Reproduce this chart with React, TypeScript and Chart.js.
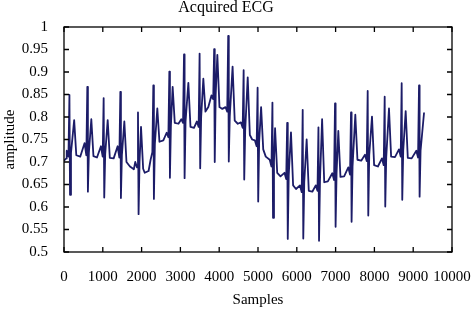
import React, { useEffect, useRef } from "react";
import { Chart, registerables } from "chart.js";

Chart.register(...registerables);

// Axis ticks
const xTickValues = [0, 1000, 2000, 3000, 4000, 5000, 6000, 7000, 8000, 9000, 10000];
const yTickValues = [0.5, 0.55, 0.6, 0.65, 0.7, 0.75, 0.8, 0.85, 0.9, 0.95, 1];

// Per-beat features
const rSample = [140, 601, 1022, 1452, 1907, 2302, 2715, 3093, 3495, 3870, 4232, 4630, 4990, 5372, 5752, 6152, 6558, 6985, 7397, 7827, 8265, 8703, 9150];
const rAmp = [0.849, 0.867, 0.842, 0.856, 0.81, 0.87, 0.901, 0.939, 0.941, 0.951, 0.98, 0.904, 0.865, 0.832, 0.787, 0.816, 0.777, 0.83, 0.81, 0.858, 0.845, 0.875, 0.87];
const sSample = [155, 616, 1037, 1467, 1922, 2317, 2730, 3108, 3510, 3885, 4247, 4645, 5005, 5387, 5767, 6167, 6573, 7000, 7412, 7842, 8280, 8718, 9165];
const sAmp = [0.627, 0.634, 0.621, 0.62, 0.584, 0.618, 0.665, 0.664, 0.686, 0.7, 0.701, 0.661, 0.612, 0.576, 0.529, 0.53, 0.525, 0.556, 0.567, 0.581, 0.601, 0.616, 0.623];
const tSample = [262, 704, 1126, 1555, 1985, 2405, 2800, 3205, 3591, 3952, 4345, 4735, 5080, 5440, 5850, 6254, 6652, 7070, 7508, 7938, 8376, 8806, 9280];
const tAmp = [0.793, 0.795, 0.793, 0.79, 0.778, 0.819, 0.867, 0.876, 0.885, 0.938, 0.912, 0.888, 0.822, 0.775, 0.766, 0.75, 0.795, 0.769, 0.805, 0.801, 0.819, 0.813, 0.81];
const pAmp = [0.725, 0.742, 0.735, 0.735, 0.7, 0.705, 0.765, 0.795, 0.79, 0.848, 0.822, 0.788, 0.748, 0.705, 0.676, 0.648, 0.648, 0.675, 0.688, 0.716, 0.708, 0.728, 0.725];
const preAmp = [0.712, 0.715, 0.712, 0.71, 0.688, 0.722, 0.755, 0.787, 0.778, 0.84, 0.812, 0.776, 0.735, 0.69, 0.662, 0.633, 0.636, 0.66, 0.672, 0.702, 0.693, 0.712, 0.71];
const stAmp = [0.72, 0.72, 0.718, 0.715, 0.7, 0.74, 0.78, 0.79, 0.8, 0.85, 0.8, 0.77, 0.745, 0.7, 0.67, 0.655, 0.66, 0.675, 0.69, 0.715, 0.71, 0.725, 0.725];
const postAmp = [0.715, 0.713, 0.709, 0.7, 0.685, 0.745, 0.787, 0.778, 0.812, 0.822, 0.792, 0.76, 0.728, 0.676, 0.648, 0.636, 0.655, 0.667, 0.705, 0.693, 0.712, 0.709];

// Baseline points between beats
const baseSample = [0, 60, 420, 850, 1280, 1700, 1800, 2080, 2180, 2560, 2950, 3350, 3720, 4080, 4480, 4850, 5200, 5580, 5980, 6400, 6800, 7220, 7660, 8090, 8530, 8960];
const baseAmp = [0.703, 0.708, 0.712, 0.71, 0.708, 0.69, 0.684, 0.676, 0.68, 0.748, 0.785, 0.776, 0.822, 0.818, 0.785, 0.75, 0.712, 0.668, 0.64, 0.634, 0.657, 0.668, 0.703, 0.69, 0.711, 0.708];

// Feature timing relative to R (samples)
const pLead = 70;
const preLead = 25;
const stLag = 25;
const postLag = 55;

function buildPoints() {
  const pts: { x: number; y: number }[] = [];
  baseSample.forEach((s, i) => pts.push({ x: s, y: baseAmp[i] }));
  for (let i = 0; i < rSample.length; i++) {
    pts.push({ x: rSample[i] - pLead, y: pAmp[i] });
    pts.push({ x: rSample[i] - preLead, y: preAmp[i] });
    pts.push({ x: rSample[i], y: rAmp[i] });
    pts.push({ x: sSample[i], y: sAmp[i] });
    pts.push({ x: sSample[i] + stLag, y: stAmp[i] });
    pts.push({ x: tSample[i], y: tAmp[i] });
    if (i < postAmp.length) pts.push({ x: tSample[i] + postLag, y: postAmp[i] });
  }
  pts.sort((a, b) => a.x - b.x);
  return pts;
}

const framePlugin = {
  id: "frame",
  afterDraw(chart: any) {
    const { ctx, chartArea } = chart;
    const { left, right, top, bottom } = chartArea;
    const xs = chart.scales.x;
    const ys = chart.scales.y;
    ctx.save();
    ctx.strokeStyle = "#000";
    ctx.lineWidth = 1.3;
    ctx.strokeRect(left, top, right - left, bottom - top);
    ctx.beginPath();
    xTickValues.forEach((v) => {
      const px = xs.getPixelForValue(v);
      ctx.moveTo(px, bottom);
      ctx.lineTo(px, bottom - 5);
      ctx.moveTo(px, top);
      ctx.lineTo(px, top + 5);
    });
    yTickValues.forEach((v) => {
      const py = ys.getPixelForValue(v);
      ctx.moveTo(left, py);
      ctx.lineTo(left + 5, py);
      ctx.moveTo(right, py);
      ctx.lineTo(right - 5, py);
    });
    ctx.stroke();
    ctx.restore();
  },
};

export default function App() {
  const ref = useRef<HTMLCanvasElement | null>(null);
  useEffect(() => {
    document.body.style.margin = "0";
    const canvas = ref.current;
    if (!canvas) return;
    const fam = "'Liberation Serif', 'Times New Roman', serif";
    const chart = new Chart(canvas, {
      type: "line",
      data: {
        datasets: [
          {
            data: buildPoints(),
            borderColor: "#1c1c68",
            borderWidth: 1.8,
            borderJoinStyle: "round",
            pointRadius: 0,
            tension: 0,
            fill: false,
          },
        ],
      },
      options: {
        animation: false,
        responsive: false,
        parsing: false as any,
        layout: { padding: { left: 0, right: 20, top: 0, bottom: 0 } },
        plugins: {
          legend: { display: false },
          tooltip: { enabled: false },
          title: {
            display: true,
            text: "Acquired ECG",
            color: "#000",
            font: { family: fam, size: 16, weight: "normal", lineHeight: 1 },
            padding: { top: 0, bottom: 11 },
          },
        },
        scales: {
          x: {
            type: "linear",
            min: 0,
            max: 10000,
            grid: { display: false },
            border: { display: false },
            afterBuildTicks: (s: any) => {
              s.ticks = xTickValues.map((v) => ({ value: v }));
            },
            afterFit: (s: any) => {
              s.height = 57;
              s.paddingLeft = 0;
              s.paddingRight = 0;
            },
            ticks: {
              color: "#000",
              font: { family: fam, size: 15 },
              padding: 8,
              maxRotation: 0,
              autoSkip: false,
              callback: (v: any) => String(v),
            },
            title: {
              display: true,
              text: "Samples",
              color: "#000",
              font: { family: fam, size: 15, lineHeight: 1.2 },
              padding: { top: 0, bottom: 0 },
            },
          },
          y: {
            type: "linear",
            min: 0.5,
            max: 1,
            grid: { display: false },
            border: { display: false },
            afterBuildTicks: (s: any) => {
              s.ticks = yTickValues.map((v) => ({ value: v }));
            },
            afterFit: (s: any) => {
              s.width = 64;
              s.paddingTop = 0;
              s.paddingBottom = 0;
            },
            ticks: {
              color: "#000",
              font: { family: fam, size: 15 },
              padding: 8,
              callback: (v: any) => String(+Number(v).toFixed(2)),
            },
            title: {
              display: true,
              text: "amplitude",
              color: "#000",
              font: { family: fam, size: 15, lineHeight: 1.2 },
              padding: { top: 1, bottom: 0 },
            },
          },
        },
      },
      plugins: [framePlugin],
    } as any);
    return () => chart.destroy();
  }, []);
  return <canvas ref={ref} width={472} height={309} style={{ display: "block" }} />;
}
